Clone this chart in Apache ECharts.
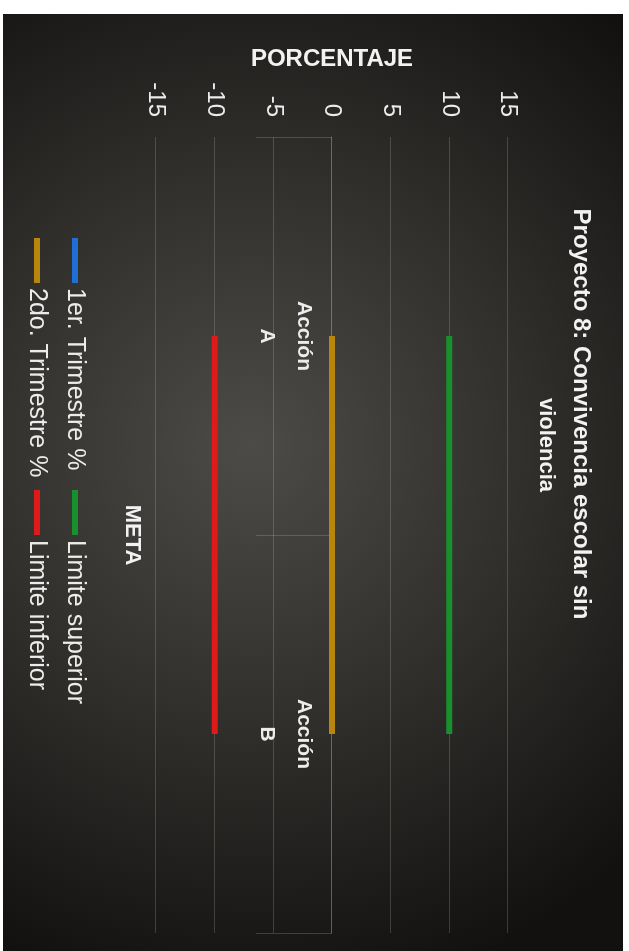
<!DOCTYPE html>
<html><head><meta charset="utf-8">
<script src="https://cdn.jsdelivr.net/npm/echarts@6/dist/echarts.min.js"></script>
<style>
html,body{margin:0;padding:0;background:#fff;width:629px;height:951px;overflow:hidden;}
#chart{position:absolute;left:0;top:0;width:937px;height:620px;transform-origin:0 0;transform:translate(623px,14px) rotate(90deg);}
</style></head><body><div id="chart"></div>
<script>
// Data
const categories = ['Acción A', 'Acción B'];
const trimestre1 = [0, 0];
const limiteSuperior = [10, 10];
const trimestre2 = [0, 0];
const limiteInferior = [-10, -10];
const valueMin = -15, valueMax = 15, valueStep = 5;
const titleLine1 = 'Proyecto 8: Convivencia escolar sin';
const titleLine2 = 'violencia';
const yName = 'PORCENTAJE';
const xName = 'META';
const seriesNames = ['1er. Trimestre %', 'Limite superior', '2do. Trimestre %', 'Limite inferior'];
const seriesColors = ['#1f6fd6', '#18902e', '#b8860f', '#e01a1a'];

const FONT = "'Liberation Sans', Arial, sans-serif";
const grid = 'rgba(220,220,205,0.2)';
const W = 937, H = 620;
const gridTop = 115, gridBottom = 153;
// distance of the zero line from the grid bottom, so the category axis sits on zero
const zeroOffset = -((H - gridTop - gridBottom) * (0 - valueMin) / (valueMax - valueMin));
const chart = echarts.init(document.getElementById('chart'), null, {width: W, height: H});
const dataSets = [trimestre1, limiteSuperior, trimestre2, limiteInferior];

chart.setOption({
  backgroundColor: {
    type: 'radial', x: 0.46, y: 0.6, r: 0.9,
    colorStops: [{offset: 0, color: '#4c4b48'}, {offset: 0.5, color: '#302f2c'}, {offset: 1, color: '#121110'}]
  },
  animation: false,
  title: [
    {text: titleLine1, left: 400, top: 30, padding: 0, textAlign: 'center',
     textStyle: {color: '#f2f2f2', fontFamily: FONT, fontWeight: 'bold', fontSize: 24, lineHeight: 24}},
    {text: titleLine2, left: 431, top: 65, padding: 0, textAlign: 'center',
     textStyle: {color: '#f2f2f2', fontFamily: FONT, fontWeight: 'bold', fontSize: 22, lineHeight: 24}}
  ],
  legend: {
    data: seriesNames, left: 224, top: 530, padding: 0, width: 520,
    itemGap: 2, itemWidth: 45, itemHeight: 6, icon: 'rect',
    textStyle: {color: '#ececec', fontFamily: FONT, fontSize: 25, width: 200, lineHeight: 36}
  },
  grid: {left: 123, right: 18, top: gridTop, bottom: gridBottom},
  xAxis: [{
    type: 'category', data: categories, boundaryGap: true, position: 'bottom', offset: zeroOffset,
    axisLine: {show: true, onZero: false, lineStyle: {color: grid}},
    axisTick: {show: true, length: 76, lineStyle: {color: grid}},
    axisLabel: {color: '#ececec', fontFamily: FONT, fontWeight: 'bold', fontSize: 21, lineHeight: 37, margin: 10,
      formatter: v => v.replace(' ', '\n')}
  }, {
    type: 'category', data: categories, position: 'bottom',
    axisLine: {show: false, onZero: false}, axisTick: {show: false}, axisLabel: {show: false},
    name: xName, nameLocation: 'middle', nameGap: 13,
    nameTextStyle: {color: '#f2f2f2', fontFamily: FONT, fontWeight: 'bold', fontSize: 22}
  }],
  yAxis: {
    type: 'value', min: valueMin, max: valueMax, interval: valueStep,
    axisLine: {show: false}, axisTick: {show: false},
    splitLine: {lineStyle: {color: grid, width: 1}},
    axisLabel: {color: '#ececec', fontFamily: FONT, fontSize: 24, margin: 20},
    name: yName, nameLocation: 'middle', nameGap: 65,
    nameTextStyle: {color: '#f2f2f2', fontFamily: FONT, fontWeight: 'bold', fontSize: 24}
  },
  series: seriesNames.map((n, i) => ({
    name: n, type: 'line', data: dataSets[i], symbol: 'none',
    itemStyle: {color: seriesColors[i]},
    lineStyle: {color: seriesColors[i], width: 6}
  }))
});
</script></body></html>
